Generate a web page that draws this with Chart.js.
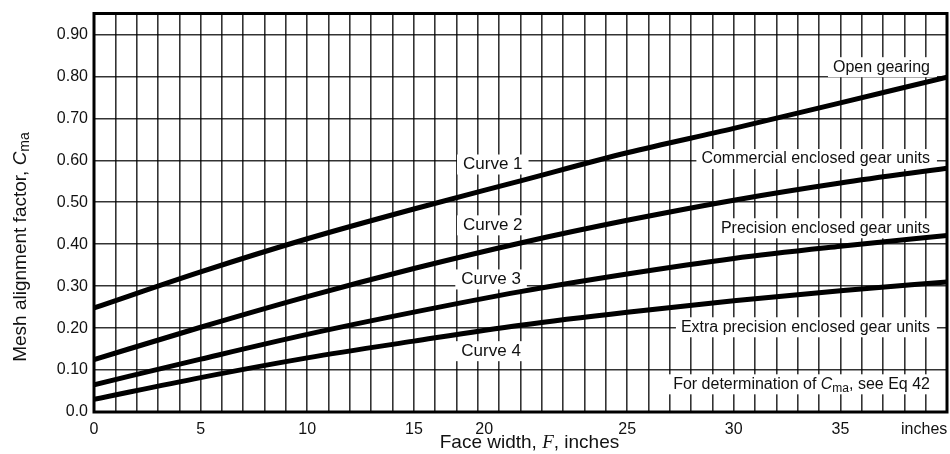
<!DOCTYPE html>
<html>
<head>
<meta charset="utf-8">
<script src="https://cdn.jsdelivr.net/npm/chart.js@4"></script>
<style>
  html, body { margin: 0; padding: 0; background: #fff; }
  #wrap { width: 950px; height: 454px; }
</style>
</head>
<body>
<div id="wrap"><canvas id="chart" width="950" height="454"></canvas></div>
<script>
// Face width F (inches) and mesh alignment factor
const faceWidth = [0, 5, 10, 15, 20, 25, 30, 35, 40];
const openGearing = [0.248, 0.334, 0.413, 0.484, 0.551, 0.618, 0.676, 0.737, 0.798];
const commercialUnits = [0.125, 0.202, 0.275, 0.342, 0.403, 0.457, 0.505, 0.546, 0.581];
const precisionUnits = [0.065, 0.126, 0.185, 0.238, 0.287, 0.329, 0.366, 0.395, 0.421];
const extraPrecisionUnits = [0.030, 0.082, 0.129, 0.169, 0.207, 0.238, 0.265, 0.289, 0.310];

// x tick labels (the "20" sits left of its grid line in the original)
const xTickLabels = ["0", "5", "10", "15", "20", "25", "30", "35", "inches"];
const xTickAt = [0, 5, 10, 15, 18.3, 25, 30, 35, 38.93];

const sans = '"Liberation Sans", Arial, Helvetica, sans-serif';
const ink = "#111";
const gridColor = "rgba(0,0,0,0.8)";

// notes: [text parts, F, value]
const curveNotes = [
  [[{ t: "Curve 1" }], 18.7, 0.59],
  [[{ t: "Curve 2" }], 18.7, 0.445],
  [[{ t: "Curve 3" }], 18.62, 0.316],
  [[{ t: "Curve 4" }], 18.62, 0.145],
];
const sideNotes = [
  [[{ t: "Open gearing" }], 39.2, 0.822],
  [[{ t: "Commercial enclosed gear units" }], 39.2, 0.603],
  [[{ t: "Precision enclosed gear units" }], 39.2, 0.438],
  [[{ t: "Extra precision enclosed gear units" }], 39.2, 0.202],
  [[{ t: "For determination of " }, { t: "C", f: `italic 16px ${sans}` },
    { t: "ma", f: `12px ${sans}`, dy: 4 }, { t: ", see Eq 42" }], 39.2, 0.066],
];

// writes a run of text pieces, returns its width
const textRun = (ctx, parts, x, y, font, draw) => {
  let w = 0;
  for (const p of parts) {
    ctx.font = p.f || font;
    if (draw) ctx.fillText(p.t, x + w, y + (p.dy || 0));
    w += ctx.measureText(p.t).width;
  }
  return w;
};

const notesPlugin = {
  id: "notes",
  beforeDatasetsDraw(chart) {
    const { ctx, scales: { x, y } } = chart;
    ctx.save();
    ctx.textBaseline = "middle";
    // curve names, centred, on white patches
    for (const [parts, fx, vy] of curveNotes) {
      const font = `17px ${sans}`;
      const w = textRun(ctx, parts, 0, 0, font, false);
      const cx = x.getPixelForValue(fx), cy = y.getPixelForValue(vy);
      ctx.fillStyle = "#fff";
      ctx.fillRect(cx - w / 2 - 6, cy - 10, w + 12, 20);
      ctx.fillStyle = ink;
      textRun(ctx, parts, cx - w / 2, cy, font, true);
    }
    // descriptions, right aligned
    for (const [parts, fx, vy] of sideNotes) {
      const font = `16px ${sans}`;
      const w = textRun(ctx, parts, 0, 0, font, false);
      const rx = x.getPixelForValue(fx), cy = y.getPixelForValue(vy);
      ctx.fillStyle = "#fff";
      ctx.fillRect(rx - w - 5, cy - 10, w + 12, 20);
      ctx.fillStyle = ink;
      textRun(ctx, parts, rx - w, cy, font, true);
    }
    ctx.restore();
  },
  afterDraw(chart) {
    const { ctx, chartArea: a } = chart;
    ctx.save();
    // heavy frame
    ctx.strokeStyle = "#000";
    ctx.lineWidth = 3;
    ctx.strokeRect(a.left, a.top, a.right - a.left, a.bottom - a.top);

    ctx.fillStyle = ink;
    ctx.textBaseline = "middle";
    // x title
    const font = `19px ${sans}`;
    const xParts = [{ t: "Face width, " }, { t: "F", f: 'italic 19px "Liberation Serif", serif' }, { t: ", inches" }];
    const xw = textRun(ctx, xParts, 0, 0, font, false);
    textRun(ctx, xParts, (a.left + a.right) / 2 + 9 - xw / 2, 443, font, true);
    // y title, rotated
    const yParts = [{ t: "Mesh alignment factor, " }, { t: "C", f: `italic 19px ${sans}` },
      { t: "ma", f: `14px ${sans}`, dy: 4 }];
    const yw = textRun(ctx, yParts, 0, 0, font, false);
    ctx.translate(21, 247);
    ctx.rotate(-Math.PI / 2);
    textRun(ctx, yParts, -yw / 2, 0, font, true);
    ctx.restore();
  },
};

const curve = (vals) => faceWidth.map((f, i) => ({ x: f, y: vals[i] }));
const lineStyle = {
  borderColor: "#000",
  borderWidth: 5,
  pointRadius: 0,
  fill: false,
  cubicInterpolationMode: "monotone",
};

new Chart(document.getElementById("chart"), {
  type: "line",
  plugins: [notesPlugin],
  data: {
    datasets: [
      { label: "Open gearing", data: curve(openGearing), ...lineStyle },
      { label: "Commercial enclosed gear units", data: curve(commercialUnits), ...lineStyle },
      { label: "Precision enclosed gear units", data: curve(precisionUnits), ...lineStyle },
      { label: "Extra precision enclosed gear units", data: curve(extraPrecisionUnits), ...lineStyle },
    ],
  },
  options: {
    responsive: false,
    animation: false,
    layout: { padding: { top: 13.5, right: 3, left: 0, bottom: 0 } },
    plugins: { legend: { display: false }, tooltip: { enabled: false } },
    scales: {
      x: {
        type: "linear",
        min: 0,
        max: 40,
        afterFit: (s) => { s.height = 42; s.paddingLeft = 0; s.paddingRight = 0; },
        afterBuildTicks: (axis) => {
          const vals = Array.from({ length: 41 }, (_, i) => i).concat([18.3, 38.93]);
          axis.ticks = vals.sort((a, b) => a - b).map((v) => ({ value: v }));
        },
        border: { display: false },
        grid: {
          drawTicks: false,
          lineWidth: 1.6,
          color: (c) => (c.tick && Number.isInteger(c.tick.value) ? gridColor : "rgba(0,0,0,0)"),
        },
        ticks: {
          autoSkip: false,
          maxRotation: 0,
          padding: 8,
          color: ink,
          font: { family: sans, size: 16 },
          callback: (v) => {
            const i = xTickAt.indexOf(v);
            return i >= 0 ? xTickLabels[i] : "";
          },
        },
      },
      y: {
        min: 0,
        max: 0.95,
        afterFit: (s) => { s.width = 94; s.paddingTop = 0; s.paddingBottom = 0; },
        border: { display: false },
        grid: { drawTicks: false, lineWidth: 1.6, color: gridColor },
        ticks: {
          stepSize: 0.05,
          padding: 6,
          color: ink,
          font: { family: sans, size: 16 },
          callback: (v) => {
            const h = Math.round(v * 100);
            if (h % 10) return "";
            return h === 0 ? "0.0" : (h / 100).toFixed(2);
          },
        },
      },
    },
  },
});
</script>
</body>
</html>
